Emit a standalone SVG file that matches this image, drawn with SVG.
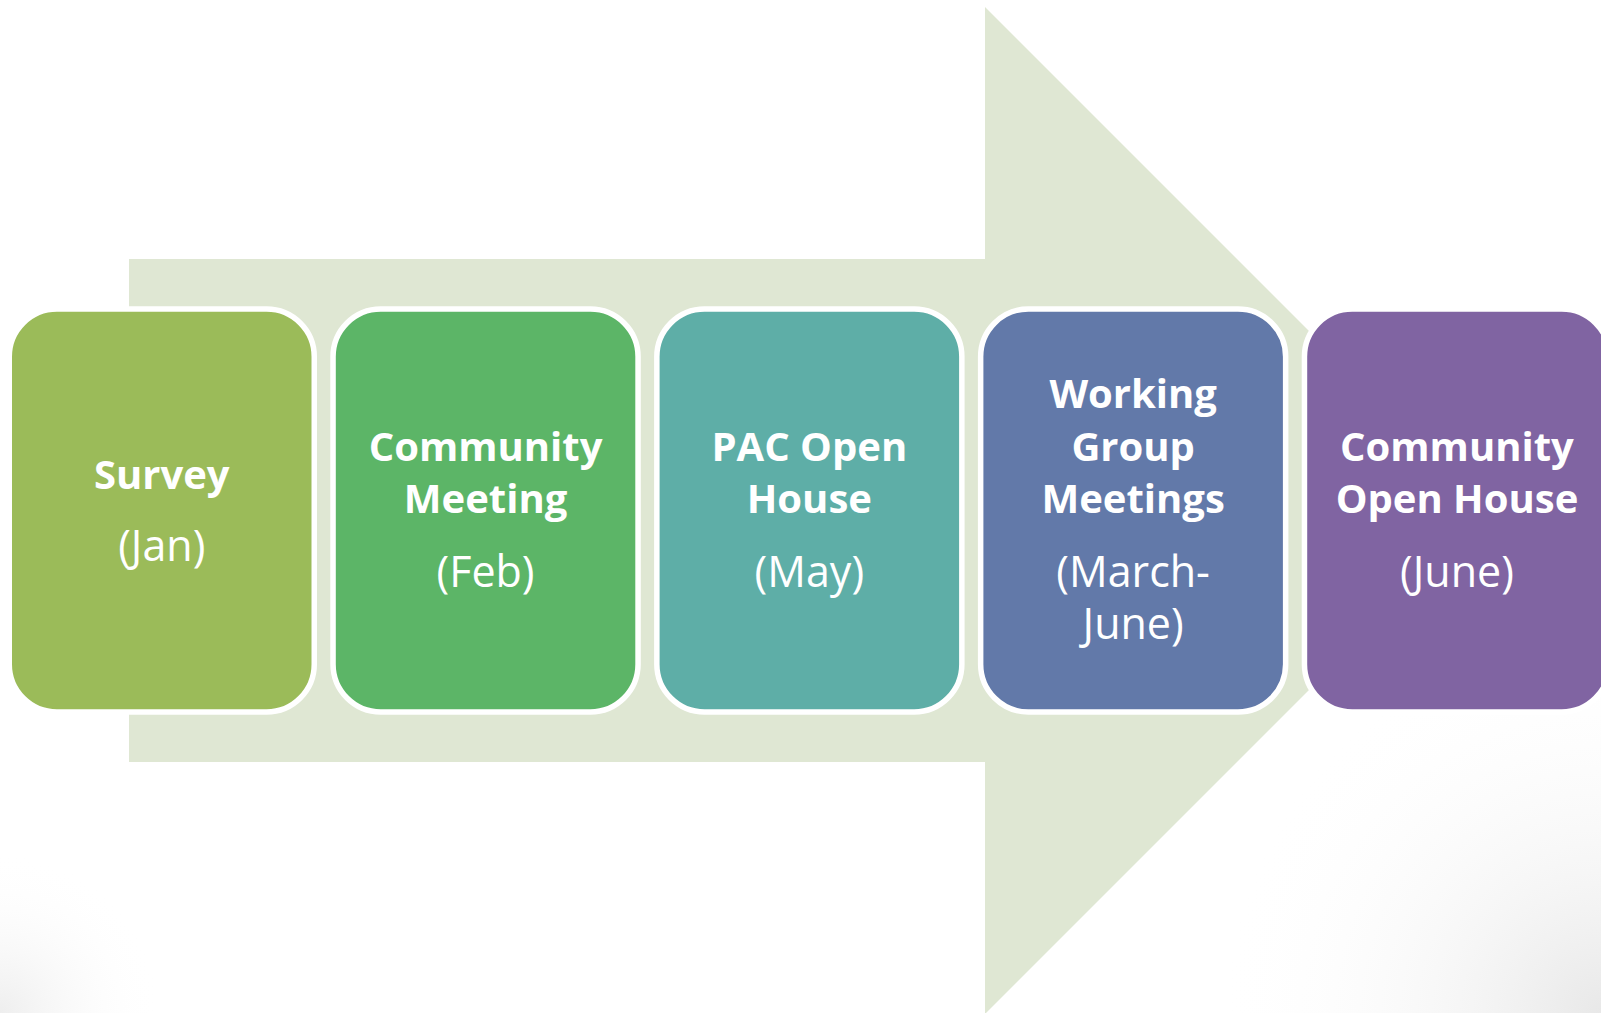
<svg xmlns="http://www.w3.org/2000/svg" width="1601" height="1013" viewBox="0 0 1601 1013">
  <defs>
    <radialGradient id="vigBR" cx="1601" cy="1013" r="380" gradientUnits="userSpaceOnUse">
      <stop offset="0" stop-color="#e8e8e8"/>
      <stop offset="1" stop-color="#ffffff" stop-opacity="0"/>
    </radialGradient>
    <radialGradient id="vigBL" cx="0" cy="1013" r="160" gradientUnits="userSpaceOnUse">
      <stop offset="0" stop-color="#eeeeee"/>
      <stop offset="1" stop-color="#ffffff" stop-opacity="0"/>
    </radialGradient>
  </defs>
  <style>
    .box { stroke: #ffffff; stroke-width: 5.5; }
    .t { font-family: "Open Sans", Lato, "Liberation Sans", sans-serif; font-size: 43px; fill: #ffffff; text-anchor: middle; }
    .b { font-weight: bold; font-size: 40px; }
  </style>
  <rect x="0" y="0" width="1601" height="1013" fill="#ffffff"/>
  <rect x="0" y="0" width="1601" height="1013" fill="url(#vigBR)"/>
  <rect x="0" y="0" width="1601" height="1013" fill="url(#vigBL)"/>

  <g id="connectors">
    <polygon id="arrow" points="129,259 985,259 985,7 1488.5,510.5 985,1014 985,762 129,762" fill="#dfe7d3"/>
  </g>

  <g id="node-survey">
    <rect class="box" x="9.25" y="308.95" width="305" height="403.1" rx="47.75" fill="#9bbb59"/>
    <text class="t b" x="161.75" y="489">Survey</text>
    <text class="t" x="161.75" y="561">(Jan)</text>
  </g>

  <g id="node-community-meeting">
    <rect class="box" x="333.05" y="308.95" width="305" height="403.1" rx="47.75" fill="#5cb567"/>
    <text class="t b" x="485.55" y="461">Community</text>
    <text class="t b" x="485.55" y="513">Meeting</text>
    <text class="t" x="485.55" y="587">(Feb)</text>
  </g>

  <g id="node-pac-open-house">
    <rect class="box" x="656.85" y="308.95" width="305" height="403.1" rx="47.75" fill="#5eaea7"/>
    <text class="t b" x="809.35" y="461">PAC Open</text>
    <text class="t b" x="809.35" y="513">House</text>
    <text class="t" x="809.35" y="587">(May)</text>
  </g>

  <g id="node-working-group">
    <rect class="box" x="980.65" y="308.95" width="305" height="403.1" rx="47.75" fill="#6279a9"/>
    <text class="t b" x="1133.15" y="408">Working</text>
    <text class="t b" x="1133.15" y="461">Group</text>
    <text class="t b" x="1133.15" y="513">Meetings</text>
    <text class="t" x="1133.15" y="587">(March-</text>
    <text class="t" x="1133.15" y="639">June)</text>
  </g>

  <g id="node-community-open-house">
    <rect class="box" x="1304.45" y="308.95" width="305" height="403.1" rx="47.75" fill="#8064a2"/>
    <text class="t b" x="1456.95" y="461">Community</text>
    <text class="t b" x="1456.95" y="513">Open House</text>
    <text class="t" x="1456.95" y="587">(June)</text>
  </g>
</svg>
